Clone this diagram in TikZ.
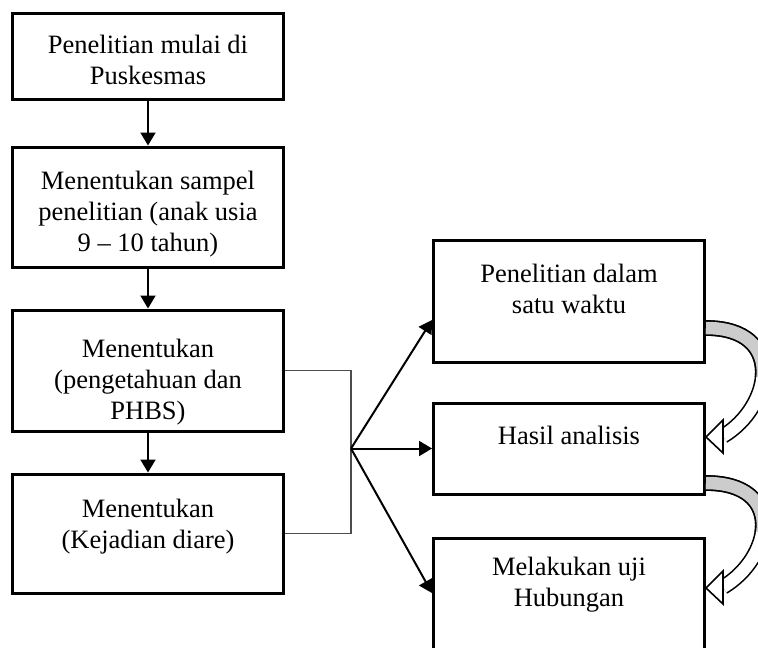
\documentclass[tikz,border=0pt]{standalone}
\usepackage{fontspec}
\setmainfont{Liberation Serif}
\usetikzlibrary{arrows.meta, positioning, calc}

\newcommand{\stagetext}[2]{\parbox[c][#1][t]{250pt}{\centering #2}}

% hollow bent arrow from one box side to the next
\newcommand{\bentarrow}[2]{%
  \draw[band] (#1) .. controls ($(#1)+(80,0)$) and ($(#2)+(66,-30)$) .. ($(#2)+(17,-1)$);
  \begin{scope}
    \clip ($(#1)+(-1,-20)$) rectangle ($(#1)+(90,48)$);
    \draw[band, double=gray!40] (#1) .. controls ($(#1)+(80,0)$) and ($(#2)+(66,-30)$) .. ($(#2)+(17,-1)$);
  \end{scope}
  \draw[bandhead] (#2) -- ($(#2)+(17,16)$) -- ($(#2)+(17,-17)$) -- cycle;
}

\begin{document}
\begin{tikzpicture}[
		x=1pt, y=-1pt,
		stage/.style={
			rectangle,
			draw,
			fill=white,
			minimum width=271pt,
			inner xsep=10pt,
			line width=3pt,
			font=\fontsize{26.5pt}{31pt}\selectfont
		},
		flow/.style={
			-{Triangle[length=13pt, width=15pt]},
			line width=2pt
		},
		bracket/.style={
			draw=black!70,
			line width=1.2pt
		},
		band/.style={
			line width=1.6pt,
			double=white,
			double distance=12.5pt
		},
		bandhead/.style={
			draw,
			fill=white,
			line width=1.6pt,
			line join=miter
		}
		]
		\useasboundingbox (0,0) rectangle (758,648);
		
		% Left column
		\node[stage, inner ysep=22pt] (start) at (148,56) {\stagetext{42pt}{Penelitian mulai di\\ Puskesmas}};
		
		\node[stage, inner ysep=24pt, below=45pt of start] (sample) {\stagetext{72pt}{Menentukan sampel\\ penelitian (anak usia\\ 9 -- 10 tahun)}};
		
		\node[stage, inner ysep=29pt, below=40pt of sample] (peng) {\stagetext{63pt}{Menentukan\\ (pengetahuan dan\\ PHBS)}};
		
		\node[stage, inner ysep=25pt, below=40pt of peng] (diare) {\stagetext{69pt}{Menentukan\\ (Kejadian diare)}};
		
		\draw[flow] (start.south) -- (sample.north);
		\draw[flow] (sample.south) -- (peng.north);
		\draw[flow] (peng.south) -- (diare.north);
		
		% Right column
		\node[stage, inner ysep=24pt] (waktu) at (569,301) {\stagetext{74pt}{Penelitian dalam\\ satu waktu}};
		
		\node[stage, inner ysep=23pt, below=38pt of waktu] (hasil) {\stagetext{45pt}{Hasil analisis}};
		
		\node[stage, inner ysep=19pt, below=41pt of hasil] (uji) {\stagetext{84pt}{Melakukan uji\\ Hubungan}};
		
		% Bracket and fan of arrows
		\draw[bracket] (peng.east) -- ++(66,0) coordinate (turn) |- (diare.east);
		\coordinate (junc) at (turn |- hasil.west);
		
		\draw[flow] (junc) -- ($(waktu.west)+(0,19)$);
		\draw[flow] (junc) -- (hasil.west);
		\draw[flow] (junc) -- ($(uji.west)+(0,-6)$);
		
		% Bent arrows on the right
		\coordinate (out1) at ($(waktu.east)+(0,27)$);
		\coordinate (in1) at ($(hasil.east)+(0,-11.5)$);
		\coordinate (out2) at ($(hasil.east)+(0,34.5)$);
		\coordinate (in2) at ($(uji.east)+(0,-11)$);
		
		\bentarrow{out1}{in1}
		\bentarrow{out2}{in2}
		
	\end{tikzpicture}
\end{document}
